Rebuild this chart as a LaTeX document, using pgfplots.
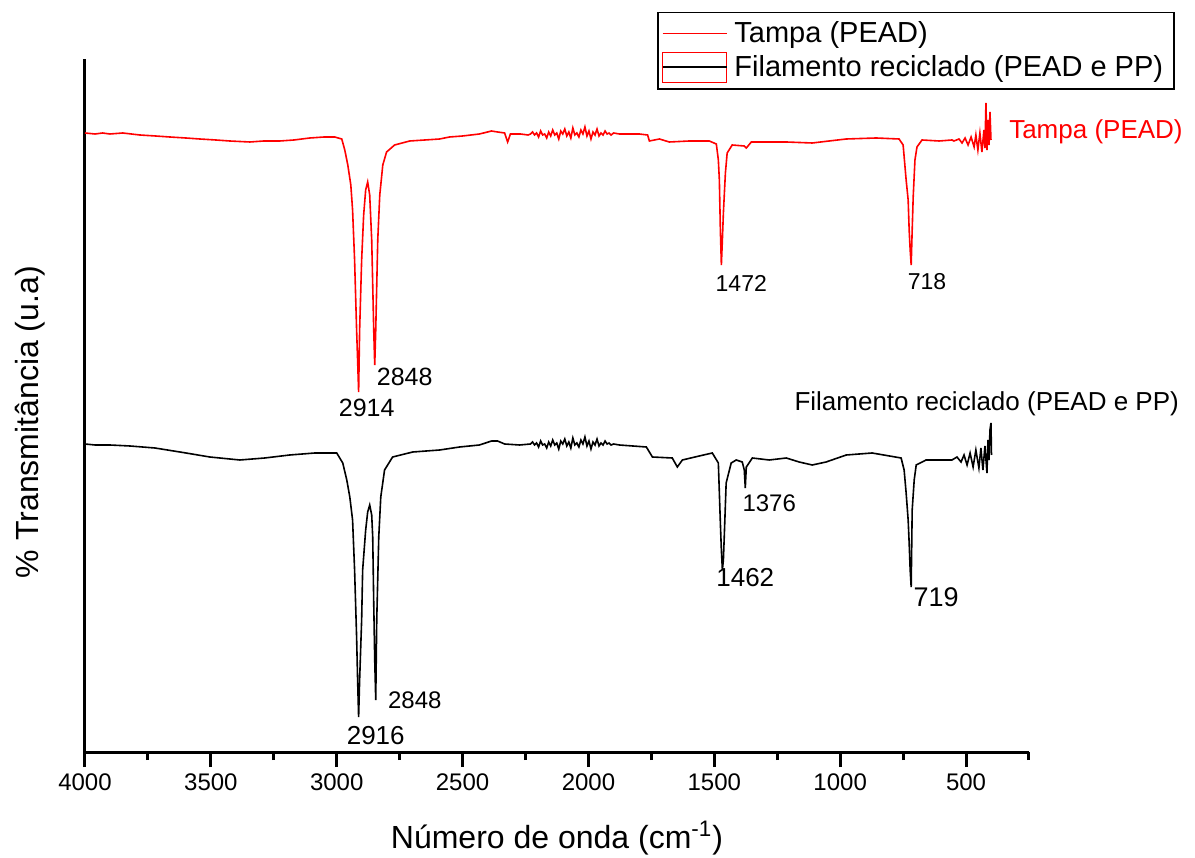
\documentclass[border=0pt]{standalone}
\usepackage{pgfplots}
\pgfplotsset{compat=1.18}
\usepackage{fontspec}
\setmainfont{Liberation Sans}
\newcommand{\fs}[1]{\fontsize{#1}{1.2\dimexpr#1\relax}\selectfont}
\begin{document}
\begin{tikzpicture}
\begin{axis}[
  scale only axis, width=472bp, height=346.5bp,
  xmin=250, xmax=4000, ymin=0, ymax=693,
  x dir=reverse,
  axis x line*=bottom, axis y line*=left,
  axis line style={line width=1.5bp, black},
  xtick={500,1000,...,4000},
  minor xtick={250,750,...,3750},
  ytick=\empty,
  tick align=outside,
  major tick length=7.5bp, minor tick length=4bp,
  every tick/.style={black, line width=1.5bp},
  tick label style={font=\fs{12bp}},
  /pgf/number format/assume math mode=true,
  /pgf/number format/1000 sep={},
  xlabel={Número de onda (cm\textsuperscript{-1})},
  ylabel={\% Transmitância (u.a)},
  xlabel style={font=\fs{16bp}, at={(rel axis cs:0.5,0)}, yshift=-43bp, anchor=center},
  ylabel style={font=\fs{16bp}, at={(rel axis cs:0,0.476)}, yshift=27.5bp, anchor=center},
  clip=false,
  legend style={at={(0.606,1.068)}, anchor=north west, draw=black, line width=0.75bp,
    font=\fs{14.5bp}, inner xsep=2bp, inner ysep=3bp, row sep=1.5bp,
    nodes={inner xsep=3.5bp, inner ysep=1.5bp}},
  legend cell align=left,
]
\addplot[red, line width=0.8bp, legend image code/.code={\draw[red,line width=0.8bp] (0bp,0bp)--(32bp,0bp);}] coordinates {
(4000,619)(3960,618)(3930,619)(3901,618)(3850,619)(3782,617)(3720,616)(3663,615)(3600,614)(3544,613)(3480,612)(3425,611)(3345,610)(3290,611)(3226,611)(3170,612)(3107,614)(3050,615)(3008,615)
(2980,613)(2968,602)(2956,587)(2944,567)(2937,542)(2929,492)(2921,422)(2917,392)(2913,360)(2909,422)
(2901,492)(2893,537)(2885,562)(2877,570)(2869,557)(2861,512)(2853,422)(2849,387)(2845,422)(2837,512)
(2829,557)(2817,587)(2802,600)(2770,607)(2710,611)(2650,612)(2591,613)(2552,615)(2500,616)(2433,618)(2385,621)(2361,620)
(2333,619)(2321,610)(2310,618)(2270,618)(2240,617)
(2230,618)(2222,620)(2214,617)(2206,619)(2198,615)(2190,621)(2182,617)(2174,618)(2166,614)(2158,620)(2150,616)(2142,622)(2134,617)(2126,619)(2118,613)(2110,621)(2102,618)(2094,623)(2086,616)(2078,620)(2070,614)(2062,624)(2054,617)(2046,619)(2038,615)(2030,622)(2022,618)(2014,625)(2006,616)(1998,621)(1990,613)(1982,620)(1974,617)(1966,623)(1958,616)(1950,619)(1942,617)(1934,621)(1926,618)(1918,619)(1910,617)(1900,619)
(1877,618)(1798,618)(1765,617)(1758,611)(1718,613)(1679,610)
(1599,611)(1520,611)(1492,608)(1484,592)(1480,572)(1476,522)(1472,487)(1468,512)(1464,539)(1456,579)
(1449,599)(1429,607)(1381,606)(1373,604)(1353,610)(1214,610)(1111,609)(1044,611)(976,613)(857,614)
(766,613)(750,607)(738,572)(730,552)(726,522)(722,502)(718,487)(714,522)(710,555)(703,592)
(695,605)(675,612)(607,611)(556,612)(548,611)(528,613)(516,609)(504,614)(492,607)(480,615)
(468,605)(461,617)(453,602)(445,619)(437,600)(429,622)(425,604)(421,649)(417,602)(413,632)
(409,607)(405,640)(401,612)
};
\addlegendentry{Tampa (PEAD)}
\addplot[black, line width=0.8bp, legend image code/.code={\draw[red,line width=0.6bp] (0bp,-7.5bp) rectangle (32bp,7.5bp); \draw[black,line width=0.8bp] (0bp,0bp)--(32bp,0bp);}] coordinates {
(4000,308)(3960,307)(3901,307)(3821,306)(3722,304)(3623,300)(3504,295)(3385,292)(3286,294)(3187,297)(3087,299)
(3000,299)(2976,289)(2960,272)(2948,255)(2937,232)(2929,182)(2921,115)(2917,72)(2913,35)(2909,72)
(2901,132)(2897,182)(2885,222)(2877,240)(2869,247)(2861,237)(2857,215)(2853,149)(2849,92)(2845,52)
(2841,132)(2833,215)(2825,255)(2810,282)(2778,295)(2698,300)(2591,302)(2512,305)(2433,307)(2385,311)
(2361,311)(2333,308)(2274,307)
(2230,308)(2222,310)(2214,307)(2206,309)(2198,305)(2190,311)(2182,307)(2174,308)(2166,304)(2158,310)(2150,306)(2142,312)(2134,307)(2126,309)(2118,303)(2110,311)(2102,308)(2094,313)(2086,306)(2078,310)(2070,304)(2062,314)(2054,307)(2046,309)(2038,305)(2030,312)(2022,308)(2014,315)(2006,306)(1998,311)(1990,303)(1982,310)(1974,307)(1966,313)(1958,306)(1950,309)(1942,307)(1934,311)(1926,308)(1918,309)(1910,307)(1900,308)
(1877,307)(1770,305)(1746,295)(1667,294)(1647,285)(1627,292)(1560,296)
(1508,299)(1484,289)(1476,229)(1472,202)(1468,182)(1464,192)(1460,219)(1453,269)(1433,289)(1413,292)
(1389,290)(1381,282)(1377,264)(1373,285)(1349,294)(1282,292)(1214,294)(1163,290)(1111,287)(1056,290)
(976,297)(873,299)(758,294)(746,282)(738,259)(730,232)(726,209)(722,182)(718,165)(714,242)
(706,272)(698,287)(659,292)(556,292)(536,295)(520,290)(508,297)(496,287)(484,299)(472,285)
(461,302)(449,284)(441,304)(433,282)(425,306)(417,279)(413,312)(409,292)(405,322)(401,329)(399,297)
};
\addlegendentry{Filamento reciclado (PEAD e PP)}
\node[font=\fs{12.5bp}, inner sep=0pt] at (axis cs:2881,344) {2914};
\node[font=\fs{12.5bp}, inner sep=0pt] at (axis cs:2730,375) {2848};
\node[font=\fs{11.5bp}, inner sep=0pt] at (axis cs:1393,469) {1472};
\node[font=\fs{11.5bp}, inner sep=0pt] at (axis cs:655,470) {718};
\node[font=\fs{12bp}, inner sep=0pt] at (axis cs:1282,249) {1376};
\node[font=\fs{13bp}, inner sep=0pt] at (axis cs:1377,174) {1462};
\node[font=\fs{13.5bp}, inner sep=0pt] at (axis cs:619,155) {719};
\node[font=\fs{13bp}, inner sep=0pt] at (axis cs:2845,16) {2916};
\node[font=\fs{12bp}, inner sep=0pt] at (axis cs:2690,52) {2848};
\node[font=\fs{13bp}, inner sep=0pt, anchor=west] at (axis cs:1183,348) {Filamento reciclado (PEAD e PP)};
\node[font=\fs{13bp}, inner sep=0pt, anchor=west, red] at (axis cs:330,620) {Tampa (PEAD)};
\end{axis}
\pgfresetboundingbox
\path[use as bounding box] ([xshift=-42.5bp,yshift=-53bp]current axis.south west) rectangle ([xshift=83bp,yshift=29.5bp]current axis.north east);
\end{tikzpicture}
\end{document}
